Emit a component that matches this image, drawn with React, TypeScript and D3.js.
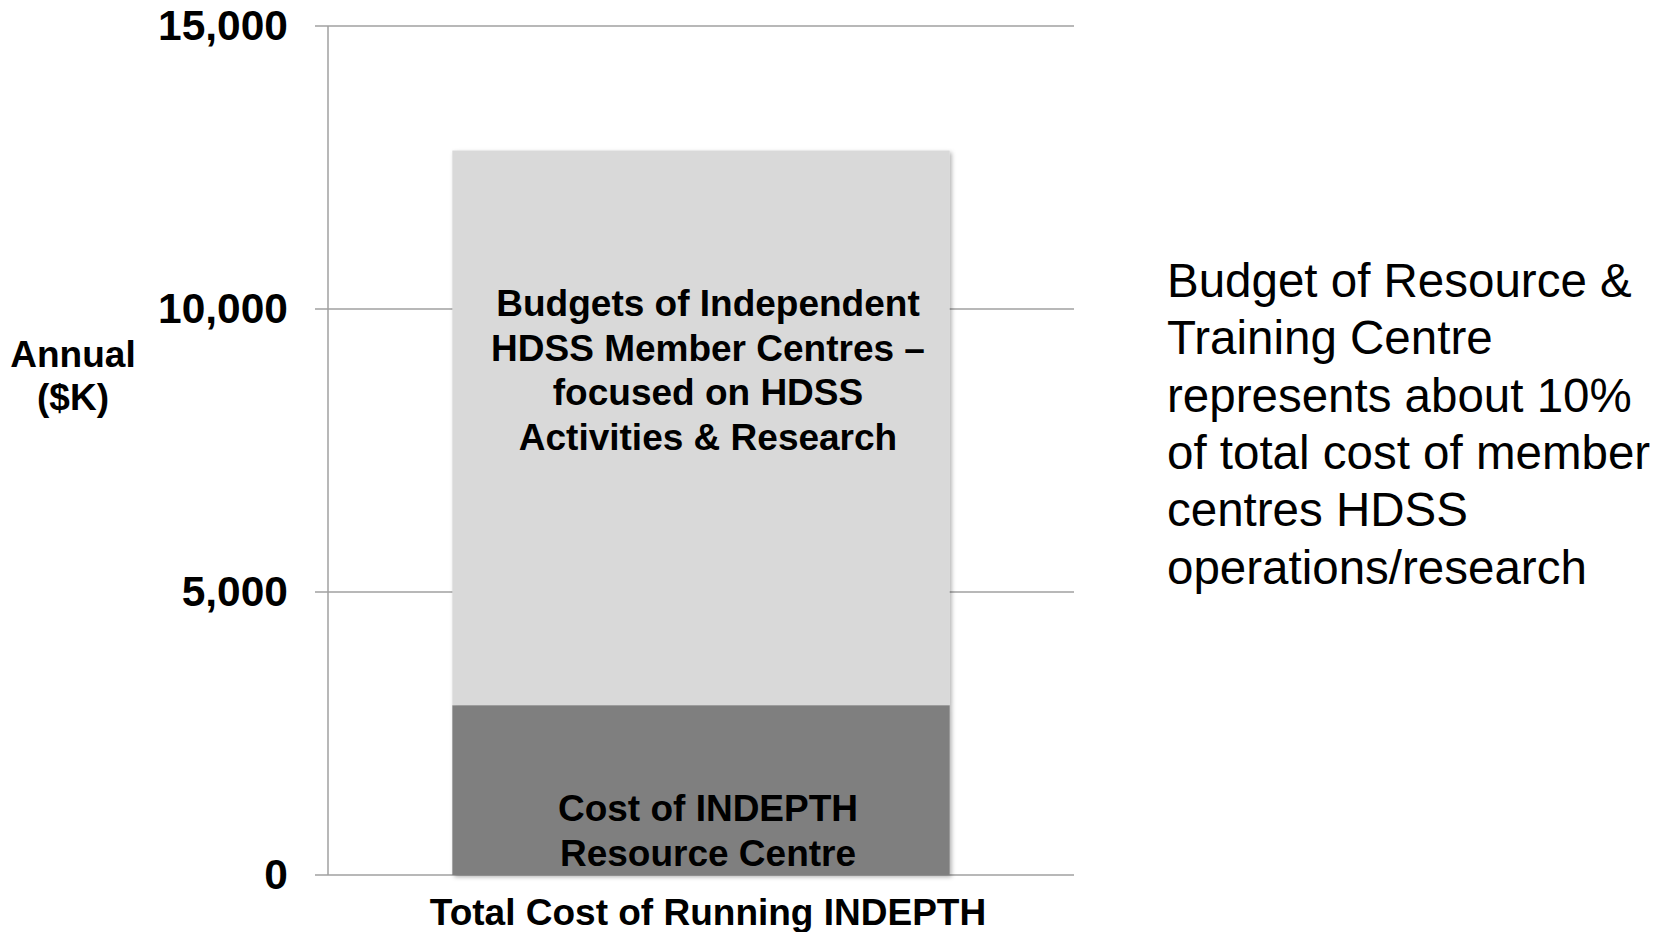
import React from "react";
import * as d3 from "d3";

const categories = ["Total Cost of Running INDEPTH"];
const resourceCentre = [3000];
const memberCentres = [9800];
const yTicks = [0, 5000, 10000, 15000];
const topLabelLines = [
  "Budgets of Independent",
  "HDSS Member Centres –",
  "focused on HDSS",
  "Activities & Research",
];
const bottomLabelLines = ["Cost of INDEPTH", "Resource Centre"];
const yTitleLines = ["Annual", "($K)"];
const noteLines = [
  "Budget of Resource &",
  "Training Centre",
  "represents about 10%",
  "of total cost of member",
  "centres HDSS",
  "operations/research",
];

const W = 1671;
const H = 932;
const FONT = "'Liberation Sans', Arimo, Arial, Helvetica, sans-serif";

export default function App() {
  const x = d3
    .scaleBand<string>()
    .domain(categories)
    .range([328, 1074])
    .paddingInner(0)
    .paddingOuter(0.25);
  const y = d3.scaleLinear().domain([0, 15000]).range([875, 26]);
  const fmt = d3.format(",");

  const stacked = categories.map((c, i) => {
    const a = resourceCentre[i];
    const b = memberCentres[i];
    return { c, segs: [
      { y0: 0, y1: a, fill: "#7f7f7f" },
      { y0: a, y1: a + b, fill: "#d9d9d9" },
    ] };
  });

  const textCx = 708;

  return (
    <svg
      width={W}
      height={H}
      style={{ position: "absolute", left: 0, top: 0, background: "#fff", fontFamily: FONT }}
    >
      <defs>
        <filter id="shadow" x="-5%" y="-5%" width="110%" height="110%">
          <feDropShadow dx="2" dy="2" stdDeviation="2" floodColor="#000" floodOpacity="0.3" />
        </filter>
      </defs>
      {yTicks.map((t) => (
        <line
          key={t}
          x1={315}
          x2={1074}
          y1={y(t)}
          y2={y(t)}
          stroke="#a0a0a0"
          strokeWidth={1.5}
        />
      ))}
      <line x1={328} x2={328} y1={y(15000)} y2={y(0)} stroke="#a0a0a0" strokeWidth={1.5} />
      {stacked.map((s) => (
        <g key={s.c} filter="url(#shadow)">
          {s.segs.map((seg, j) => (
            <rect
              key={j}
              x={x(s.c)!}
              width={x.bandwidth()}
              y={y(seg.y1)}
              height={y(seg.y0) - y(seg.y1)}
              fill={seg.fill}
            />
          ))}
        </g>
      ))}
      {yTicks.map((t) => (
        <text
          key={t}
          x={288}
          y={y(t) + 14}
          textAnchor="end"
          fontSize={42.5}
          fontWeight="bold"
          fill="#000"
        >
          {fmt(t)}
        </text>
      ))}
      {yTitleLines.map((l, i) => (
        <text
          key={l}
          x={73}
          y={367 + i * 43}
          textAnchor="middle"
          fontSize={37}
          fontWeight="bold"
        >
          {l}
        </text>
      ))}
      {topLabelLines.map((l, i) => (
        <text
          key={l}
          x={textCx}
          y={316 + i * 44.5}
          textAnchor="middle"
          fontSize={37}
          fontWeight="bold"
        >
          {l}
        </text>
      ))}
      {bottomLabelLines.map((l, i) => (
        <text
          key={l}
          x={textCx}
          y={821 + i * 45}
          textAnchor="middle"
          fontSize={37}
          fontWeight="bold"
        >
          {l}
        </text>
      ))}
      {categories.map((c) => (
        <text
          key={c}
          x={textCx}
          y={925}
          textAnchor="middle"
          fontSize={37}
          fontWeight="bold"
        >
          {c}
        </text>
      ))}
      {noteLines.map((l, i) => (
        <text key={l} x={1167} y={297 + i * 57.3} fontSize={47.5}>
          {l}
        </text>
      ))}
    </svg>
  );
}
